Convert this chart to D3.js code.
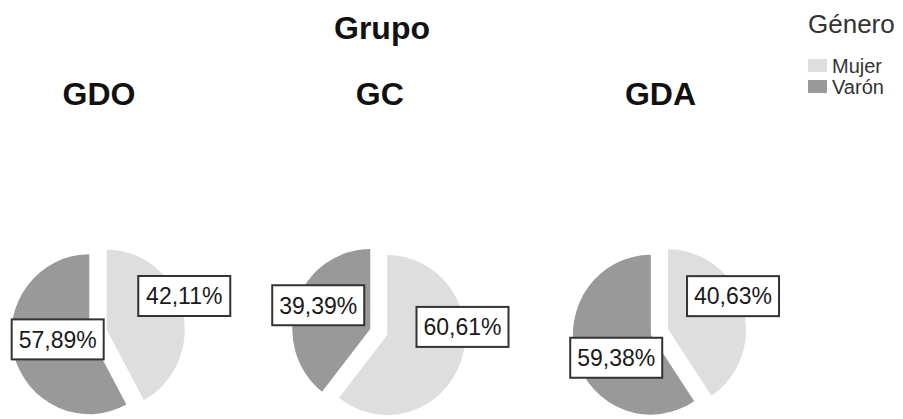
<!DOCTYPE html>
<html>
<head>
<meta charset="utf-8">
<script src="https://cdn.jsdelivr.net/npm/d3@7"></script>
<style>
  html, body { margin: 0; padding: 0; background: #fff; }
  svg { display: block; font-family: "Liberation Sans", Arial, sans-serif; }
</style>
</head>
<body>
<svg id="chart" width="903" height="419"></svg>
<script>
// Percentage of each gender within each group
const groups = ["GDO", "GC", "GDA"];
const genders = ["Mujer", "Varón"];
const mujerPct = [42.11, 60.61, 40.63];
const varonPct = [57.89, 39.39, 59.38];

// Label placement for each slice: angle (degrees, clockwise from 12 o'clock)
// and distance from the slice's own centre, as a fraction of the radius
const mujerLabelAngle = [67, 84, 63.5];
const mujerLabelDist = [1.08, 0.97, 0.93];
const varonLabelAngle = [261, 294, 237];
const varonLabelDist = [0.41, 0.73, 0.53];

const W = 903, H = 419;
const radius = 78, yStretch = 1.025, explode = 9;
const cy = 332;

const colour = d3.scaleOrdinal().domain(genders).range(["#dedede", "#999999"]);
const x = d3.scalePoint().domain(groups).range([98, 659.5]);

const locale = d3.formatLocale({ decimal: ",", thousands: ".", grouping: [3] });
const fmt = v => locale.format(".2f")(v) + "%";

const svg = d3.select("#chart");

// Overall title
svg.append("text")
  .attr("x", 382).attr("y", 39)
  .attr("text-anchor", "middle")
  .attr("font-size", 32).attr("font-weight", "bold").attr("fill", "#111")
  .text("Grupo");

const pie = d3.pie().sort(null).value(d => d.value);
const arc = d3.arc().innerRadius(0).outerRadius(radius);

const polar = (angleDeg, dist) => {
  const a = angleDeg * Math.PI / 180;
  return [dist * Math.sin(a), -dist * Math.cos(a) * yStretch];
};

groups.forEach((g, i) => {
  const slices = pie([
    { key: "Mujer", value: mujerPct[i], la: mujerLabelAngle[i], ld: mujerLabelDist[i] },
    { key: "Varón", value: varonPct[i], la: varonLabelAngle[i], ld: varonLabelDist[i] }
  ]);
  const cx = x(g);

  // Panel title
  svg.append("text")
    .attr("x", cx + 1).attr("y", 105)
    .attr("text-anchor", "middle")
    .attr("font-size", 32).attr("font-weight", "bold").attr("fill", "#111")
    .text(g);

  const gPie = svg.append("g").attr("transform", `translate(${cx},${cy})`);

  slices.forEach(s => {
    const mid = (s.startAngle + s.endAngle) / 2 * 180 / Math.PI;
    const [ox, oy] = polar(mid, explode);
    gPie.append("path")
      .attr("transform", `translate(${ox},${oy}) scale(1,${yStretch})`)
      .attr("d", arc(s))
      .attr("fill", colour(s.data.key));
  });

  // Value labels in framed boxes
  slices.forEach(s => {
    const mid = (s.startAngle + s.endAngle) / 2 * 180 / Math.PI;
    const [ox, oy] = polar(mid, explode);
    const [lx, ly] = polar(s.data.la, s.data.ld * radius);
    const lab = gPie.append("g").attr("transform", `translate(${ox + lx},${oy + ly})`);
    const bw = 92, bh = 40;
    lab.append("rect")
      .attr("x", -bw / 2).attr("y", -bh / 2)
      .attr("width", bw).attr("height", bh)
      .attr("fill", "#fff").attr("stroke", "#333").attr("stroke-width", 2);
    lab.append("text")
      .attr("text-anchor", "middle").attr("dy", "0.36em")
      .attr("font-size", 23).attr("fill", "#1a1a1a")
      .text(fmt(s.data.value));
  });
});

// Legend
const lg = svg.append("g").attr("transform", "translate(808,0)");
lg.append("text")
  .attr("x", 0).attr("y", 33)
  .attr("font-size", 26).attr("fill", "#333")
  .text("Género");
genders.forEach((k, j) => {
  const yTop = 59 + j * 21;
  lg.append("rect")
    .attr("x", 0).attr("y", yTop)
    .attr("width", 19).attr("height", 13)
    .attr("fill", colour(k));
  lg.append("text")
    .attr("x", 24).attr("y", yTop + 14)
    .attr("font-size", 20).attr("fill", "#333")
    .text(k);
});
</script>
</body>
</html>
